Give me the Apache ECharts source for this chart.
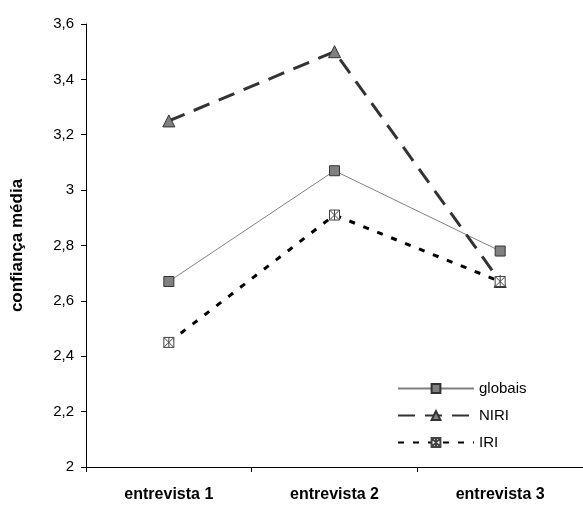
<!DOCTYPE html>
<html>
<head>
<meta charset="utf-8">
<script src="https://cdn.jsdelivr.net/npm/echarts@6/dist/echarts.min.js"></script>
<style>
html,body{margin:0;padding:0;background:#fff;}
#chart{width:583px;height:505px;}
</style>
</head>
<body>
<div id="chart"></div>
<script>
// Mean confidence per interview
const categories = ['entrevista 1', 'entrevista 2', 'entrevista 3'];
const globais = [2.67, 3.07, 2.78];
const niri = [3.25, 3.5, 2.67];
const iri = [2.45, 2.91, 2.67];

const FONT = '"Liberation Sans", Arial, sans-serif';
// boxed star marker: square outline with diagonals and a vertical stroke
const boxStar = 'path://M0 0 L10 0 L10 10 L0 10 Z M0 0 L10 10 M10 0 L0 10 M5 0 L5 10';

const chart = echarts.init(document.getElementById('chart'));
chart.setOption({
  animation: false,
  textStyle: { fontFamily: FONT },
  grid: { left: 86, top: 24, width: 508, bottom: 38, containLabel: false },
  legend: {
    orient: 'vertical',
    left: 392,
    top: 376,
    itemWidth: 76,
    itemHeight: 11,
    itemGap: 12,
    textStyle: { fontFamily: FONT, fontSize: 15, color: '#000' },
    data: ['globais', 'NIRI', 'IRI']
  },
  xAxis: {
    type: 'category',
    data: categories,
    boundaryGap: true,
    axisLine: { lineStyle: { color: '#000', width: 1 } },
    axisTick: { show: true, length: 5, inside: false, lineStyle: { color: '#000' } },
    axisLabel: { fontFamily: FONT, fontSize: 16, fontWeight: 'bold', color: '#000', margin: 20 },
    splitLine: { show: false }
  },
  yAxis: {
    type: 'value',
    min: 2,
    max: 3.6,
    interval: 0.2,
    name: 'confiança média',
    nameLocation: 'middle',
    nameGap: 60,
    nameTextStyle: { fontFamily: FONT, fontSize: 17, fontWeight: 'bold', color: '#000' },
    axisLine: { show: true, lineStyle: { color: '#000', width: 1 } },
    axisTick: { show: true, length: 5, lineStyle: { color: '#000' } },
    axisLabel: {
      fontFamily: FONT, fontSize: 15, color: '#000', margin: 12,
      formatter: v => String(+v.toFixed(1)).replace('.', ',')
    },
    splitLine: { show: false }
  },
  series: [
    {
      name: 'globais',
      type: 'line',
      data: globais,
      symbol: 'rect',
      symbolSize: 10,
      lineStyle: { color: '#808080', width: 1 },
      itemStyle: { color: '#808080', borderColor: '#333', borderWidth: 1 }
    },
    {
      name: 'NIRI',
      type: 'line',
      data: niri,
      symbol: 'triangle',
      symbolSize: 12,
      lineStyle: { color: '#333', width: 3, type: [17, 10] },
      itemStyle: { color: '#808080', borderColor: '#333', borderWidth: 1 }
    },
    {
      name: 'IRI',
      type: 'line',
      data: iri,
      symbol: boxStar,
      symbolSize: 10,
      lineStyle: { color: '#000', width: 3, type: [6, 9] },
      itemStyle: { color: '#fff', borderColor: '#444', borderWidth: 1 }
    }
  ]
});
</script>
</body>
</html>
